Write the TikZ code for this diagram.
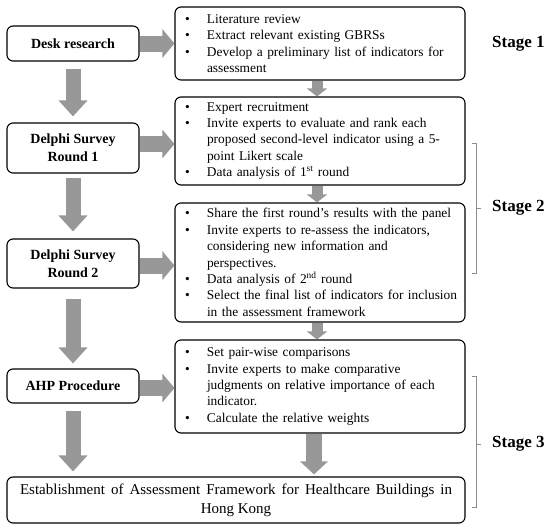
\documentclass[tikz,border=0pt]{standalone}
\usepackage{fontspec}
\setmainfont{Liberation Serif}
\usetikzlibrary{arrows.meta}
\definecolor{arrowgray}{RGB}{152,152,152}
\definecolor{brgray}{RGB}{140,140,140}
\newcommand\bl{\makebox[24pt][l]{\hspace{2pt}\textbullet}}
\newcommand\ind{\hspace*{24pt}}
\newcommand\jl[2]{\makebox[#1][s]{#2}}
\begin{document}
\begin{tikzpicture}[x=1pt,y=-1pt,
  lbox/.style={draw, rounded corners=6pt, line width=1.1pt, minimum width=132pt, inner sep=0pt,
    align=center, font=\bfseries\fontsize{14}{18}\selectfont},
  rbox/.style={draw, rounded corners=6pt, line width=1.1pt, text width=274pt, inner xsep=8pt, inner ysep=0pt,
    align=left, font=\fontsize{13.4}{16.4}\selectfont},
  stagelbl/.style={anchor=west, inner sep=0pt, font=\bfseries\fontsize{17}{20}\selectfont},
  downarrow/.style={draw=arrowgray, line width=15pt, -{Triangle[length=16pt,width=28pt]}},
  rightarrow/.style={draw=arrowgray, line width=16pt, -{Triangle[length=12pt,width=28pt]}},
  smallarrow/.style={draw=arrowgray, line width=11pt, -{Triangle[length=8pt,width=20pt]}},
  finarrow/.style={draw=arrowgray, line width=16pt, -{Triangle[length=13pt,width=27pt]}},
  bracket/.style={draw=brgray, line width=0.9pt},
]
\useasboundingbox (0,0) rectangle (550,530);

% left boxes
\node[lbox, minimum height=35pt] (desk) at (73,43.5) {Desk research};
\node[lbox, minimum height=50pt] (d1) at (73,148) {Delphi Survey\\Round 1};
\node[lbox, minimum height=49pt] (d2) at (73,263.5) {Delphi Survey\\Round 2};
\node[lbox, minimum height=34pt] (ahp) at (73,386) {AHP Procedure};

% right boxes
\node[rbox, minimum height=73pt] (r1) at (320,43.5) {%
\bl Literature review\\
\bl Extract relevant existing GBRSs\\
\bl \jl{231pt}{Develop a preliminary list of indicators for}\\
\ind assessment};
\node[rbox, minimum height=88pt] (r2) at (320,141) {%
\bl Expert recruitment\\
\bl \jl{215pt}{Invite experts to evaluate and rank each}\\
\ind \jl{228pt}{proposed second-level indicator using a 5-}\\
\ind point Likert scale\\
\bl Data analysis of 1\textsuperscript{st} round};
\node[rbox, minimum height=119pt] (r3) at (320,262.5) {%
\bl Share the first round’s results with the panel\\
\bl \jl{219pt}{Invite experts to re-assess the indicators,}\\
\ind \jl{179pt}{considering new information and}\\
\ind perspectives.\\
\bl Data analysis of 2\textsuperscript{nd} round\\
\bl \jl{244pt}{Select the final list of indicators for inclusion}\\
\ind in the assessment framework};
\node[rbox, minimum height=93pt] (r4) at (320,386.5) {%
\bl Set pair-wise comparisons\\
\bl \jl{189pt}{Invite experts to make comparative}\\
\ind \jl{223pt}{judgments on relative importance of each}\\
\ind indicator.\\
\bl Calculate the relative weights};

% final box
\node[draw, rounded corners=6pt, line width=1.1pt, minimum width=458pt, minimum height=46pt,
  inner sep=0pt, align=center, font=\fontsize{15}{19}\selectfont] (fin) at (236,500)
  {\jl{432pt}{Establishment of Assessment Framework for Healthcare Buildings in}\\Hong Kong};

% stage labels
\node[stagelbl] (s1) at (492,44) {Stage 1};
\node[stagelbl] (s2) at (492,208) {Stage 2};
\node[stagelbl] (s3) at (492,444) {Stage 3};

% left down arrows
\draw[downarrow, shorten <=7pt, shorten >=6pt] (desk.south) -- (d1.north);
\draw[downarrow, shorten <=4pt, shorten >=7pt] (d1.south) -- (d2.north);
\draw[downarrow, shorten <=10pt, shorten >=5pt] (d2.south) -- (ahp.north);
\draw[downarrow, shorten <=7pt, shorten >=5pt] (ahp.south) -- (ahp.south |- fin.north);

% horizontal arrows
\draw[rightarrow] (desk.east) -- (desk.east -| r1.west);
\draw[rightarrow] ([yshift=4pt]d1.east) -- ([yshift=4pt]d1.east -| r2.west);
\draw[rightarrow] ([yshift=-2pt]d2.east) -- ([yshift=-2pt]d2.east -| r3.west);
\draw[rightarrow] ([yshift=-2pt]ahp.east) -- ([yshift=-2pt]ahp.east -| r4.west);

% right vertical arrows
\draw[smallarrow] ([xshift=-3pt]r1.south) -- ([xshift=-3pt]r2.north);
\draw[smallarrow] ([xshift=-3pt]r2.south) -- ([xshift=-3pt]r3.north);
\draw[smallarrow] ([xshift=-3pt]r3.south) -- ([xshift=-3pt]r4.north);
\draw[finarrow, shorten >=2pt] ([xshift=-6pt]r4.south) -- ([xshift=-6pt]r4.south |- fin.north);

% brackets
\draw[bracket] (472,143) -- (476,143) -- (476,273) -- (472,273);
\draw[bracket] (476,208) -- (481,208);
\draw[bracket] (472,376) -- (476,376) -- (476,507) -- (472,507);
\draw[bracket] (476,444) -- (481,444);
\end{tikzpicture}
\end{document}
